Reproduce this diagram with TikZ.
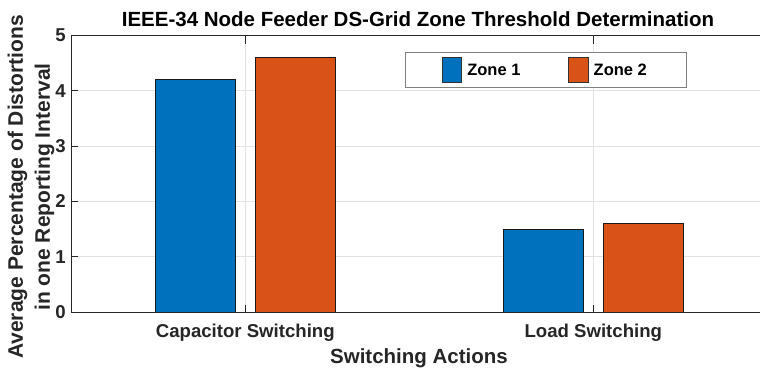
\documentclass[tikz,border=0pt]{standalone}
\usepackage{fontspec}
\setmainfont{Liberation Sans}
\usetikzlibrary{positioning}

\definecolor{zoneblue}{RGB}{0,114,189}
\definecolor{zoneorange}{RGB}{217,83,25}
\definecolor{axisgray}{RGB}{38,38,38}
\definecolor{gridgray}{RGB}{226,226,226}

\tikzset {
    axis/.style={axisgray, line width=1pt},
    gridline/.style={gridgray, line width=0.9pt},
    bar/.style={draw=black!90, line width=0.9pt},
    ticklabel/.style={text=axisgray, font=\bfseries\fontsize{18.6}{22}\selectfont, inner sep=0pt},
    axislabel/.style={text=axisgray, font=\bfseries\fontsize{20.5}{27}\selectfont, inner sep=0pt},
    legendbox/.style={draw=black!50, fill=white, line width=1pt},
    patch/.style={draw=black!80, line width=0.8pt, minimum width=19.4pt, minimum height=25pt, inner sep=0pt},
    legendtext/.style={font=\bfseries\fontsize{16.5}{20}\selectfont, inner sep=0pt}
}

\begin{document}
\begin{tikzpicture}[x=1pt, y=1pt]
    \clip (0,0) rectangle (760,368);
    \fill[white] (0,0) rectangle (760,368);

    \begin{scope}[shift={(-102.7,56)}, x=348pt, y=55.3pt]
        % grid
        \foreach \v in {1,...,4}
            \draw[gridline] (0.5,\v) -- (2.5,\v);
        \foreach \c in {1,2}
            \draw[gridline] (\c,0) -- (\c,5);

        % bars
        \foreach \c/\za/\zb in {1/4.2/4.6, 2/1.5/1.6} {
            \filldraw[bar, fill=zoneblue] (\c-0.2575,0) rectangle (\c-0.0276,\za);
            \filldraw[bar, fill=zoneorange] (\c+0.0279,0) rectangle (\c+0.2578,\zb);
        }

        % axes and ticks
        \draw[axis] (2.5,0) -- (0.5,0) -- (0.5,5) -- (2.5,5) -- cycle;
        \foreach \v in {0,...,5} {
            \draw[axis] (0.5,\v) -- ++(7pt,0pt);
            \node[ticklabel, anchor=east] (ytick\v) at ([xshift=-5.5pt]0.5,\v) {\v};
        }
        \foreach \c/\name/\txt in {1/cap/Capacitor Switching, 2/load/Load Switching} {
            \draw[axis] (\c,0) -- ++(0pt,7pt);
            \draw[axis] (\c,5) -- ++(0pt,-8pt);
            \node[ticklabel, anchor=base] (\name) at ([yshift=-25.3pt]\c,0) {\txt};
        }
    \end{scope}

    % legend
    \draw[legendbox] (405.3,280.3) rectangle (686,315.3);
    \node[patch, fill=zoneblue] (patch1) at (452,298.2) {};
    \node[legendtext, right=5pt of patch1] (zone1) {Zone 1};
    \node[patch, fill=zoneorange] (patch2) at (578.4,298.2) {};
    \node[legendtext, right=5pt of patch2] (zone2) {Zone 2};

    % labels
    \node[font=\bfseries\fontsize{20.5}{24}\selectfont, inner sep=0pt, anchor=base] (title) at (418,342)
        {IEEE-34 Node Feeder DS-Grid Zone Threshold Determination};
    \node[axislabel, anchor=base] (xlabel) at (419,4.7) {Switching Actions};
    \node[axislabel, font=\bfseries\fontsize{21}{27}\selectfont, rotate=90, align=center] (ylabel) at (31,181)
        {Average Percentage of Distortions\\in one Reporting Interval};
\end{tikzpicture}
\end{document}
